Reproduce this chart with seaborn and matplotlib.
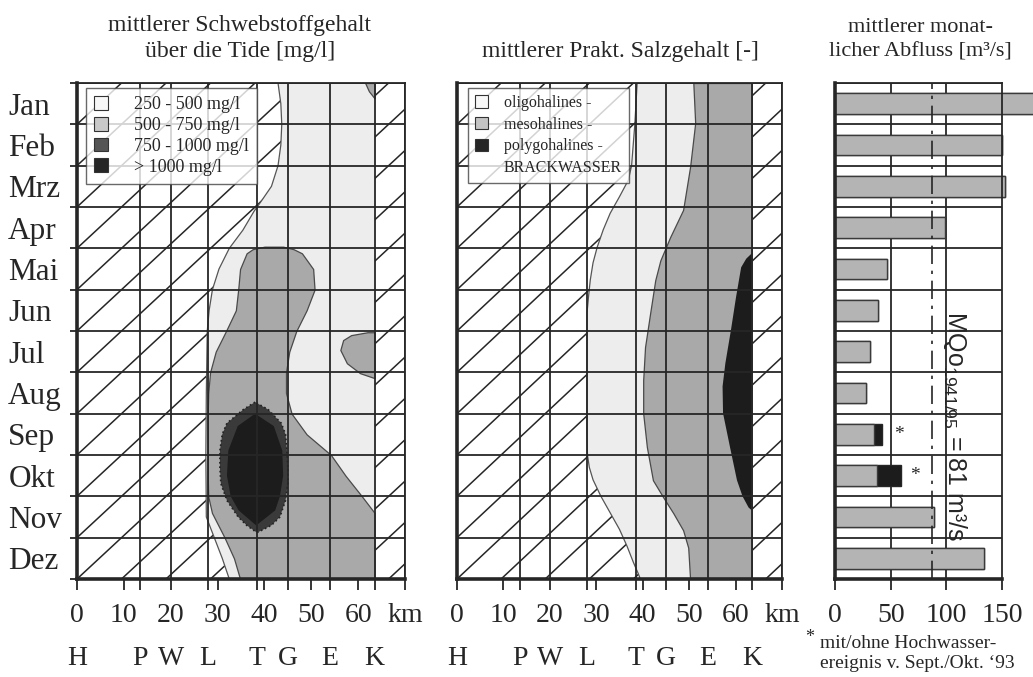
import numpy as np
import matplotlib
matplotlib.use("Agg")
import matplotlib.pyplot as plt
import seaborn as sns
from matplotlib.patches import Patch
from matplotlib.collections import LineCollection
from matplotlib.transforms import blended_transform_factory

# ---------------- data ----------------
months = ["Jan", "Feb", "Mrz", "Apr", "Mai", "Jun", "Jul", "Aug", "Sep", "Okt", "Nov", "Dez"]
station_letters = ["H", "P", "W", "L", "T", "G", "E", "K"]
station_km = [0, 13.5, 20, 28, 38.5, 45, 54, 63.5]
km_ticks = [0, 10, 20, 30, 40, 50, 60, 70]
km_tick_labels = ["0", "10", "20", "30", "40", "50", "60", "km"]

# Panel 1: suspended sediment (month position 1 = Jan centre)
ss_thin_m = [0.5, 1.0, 1.5, 2.0, 2.5, 3.0, 3.33, 3.6, 4.06, 4.5, 5.0, 5.5, 6.0, 6.5, 8.0, 9.5, 11.0, 11.5, 12.0, 12.5]
ss_thin_km = [42.9, 43.5, 43.7, 43.5, 42.9, 41.5, 39.5, 37.8, 35.4, 32.5, 30.3, 28.9, 28.2, 27.8, 27.6, 27.5, 27.6, 29.3, 31.0, 32.5]
ss_mid_m = [4.46, 4.52, 4.62, 5.0, 5.5, 6.0, 6.5, 7.0, 7.5, 8.0, 8.5, 9.0, 9.5, 10.0, 10.5, 10.9, 11.5, 12.0, 12.5]
ss_mid_left = [40.0, 37.5, 36.2, 34.8, 34.4, 33.9, 31.8, 29.6, 28.4, 28.0, 27.9, 27.9, 27.9, 27.9, 28.0, 28.8, 31.5, 33.5, 34.8]
ss_mid_right = [44.0, 46.2, 48.0, 50.4, 50.7, 49.0, 46.8, 45.3, 44.6, 44.6, 45.8, 49.0, 54.2, 57.3, 60.8, 63.5, 63.5, 63.5, 63.5]
ss_jan_m = [0.5, 0.7, 0.87]
ss_jan_left = [61.5, 62.3, 63.5]
ss_jul_m = [6.53, 6.6, 6.72, 6.96, 7.28, 7.52, 7.64]
ss_jul_left = [62.0, 58.5, 56.8, 56.2, 57.6, 60.4, 63.5]
ss_dark_m = [8.22, 8.4, 8.73, 9.0, 9.39, 9.8, 10.19, 10.6, 11.0, 11.2, 11.37]
ss_dark_left = [38.0, 35.5, 32.0, 31.0, 30.5, 30.5, 30.7, 32.0, 34.4, 36.2, 38.3]
ss_dark_right = [38.0, 40.8, 43.6, 44.5, 44.8, 45.0, 45.0, 44.5, 43.3, 41.5, 38.6]
ss_core_m = [8.5, 8.8, 9.39, 10.0, 10.5, 10.84, 11.2]
ss_core_left = [38.0, 34.3, 32.3, 32.0, 32.8, 34.5, 38.2]
ss_core_right = [38.0, 42.0, 43.8, 44.0, 43.3, 42.3, 38.3]
ss_labels = ["250 - 500 mg/l", "500 - 750 mg/l", "750 - 1000 mg/l", "> 1000 mg/l"]

# Panel 2: salinity
sal_oligo_m = [0.5, 1.5, 2.5, 2.85, 3.25, 3.65, 4.05, 4.47, 4.85, 5.27, 5.7, 6.07, 7.0, 8.0, 9.0, 9.5, 9.8, 10.1, 10.5, 10.9, 11.3, 11.7, 12.1, 12.36, 12.5]
sal_oligo_km = [38.8, 38.3, 37.6, 36.9, 35.0, 33.0, 31.5, 30.2, 29.3, 28.7, 28.3, 28.0, 28.0, 28.0, 28.0, 28.1, 28.5, 29.3, 31.0, 33.0, 35.0, 36.6, 38.0, 39.0, 39.5]
sal_meso_m = [0.5, 1.47, 2.53, 3.57, 4.23, 4.79, 5.27, 6.07, 6.89, 7.69, 8.49, 9.31, 10.11, 10.52, 10.91, 11.32, 11.74, 12.5]
sal_meso_km = [50.9, 51.3, 50.2, 48.7, 45.9, 43.8, 42.7, 41.6, 40.5, 40.1, 40.1, 40.9, 42.2, 44.4, 46.6, 48.7, 49.8, 50.2]
sal_poly_m = [4.62, 4.75, 4.96, 5.68, 6.48, 7.28, 7.84, 8.49, 9.31, 10.11, 10.5, 10.77, 10.84]
sal_poly_km = [63.5, 62.3, 61.2, 60.1, 59.0, 57.8, 57.2, 57.3, 58.8, 60.3, 61.5, 62.8, 63.5]
sal_labels = ["oligohalines -", "mesohalines -", "polygohalines -", "BRACKWASSER"]

# Panel 3: monthly discharge [m3/s]
flow_base = [190, 150, 153, 99, 47, 39, 31, 28, 35, 37.5, 89, 134]
flow_total = [190, 150, 153, 99, 47, 39, 31, 28, 42.5, 59, 89, 134]
flow_ticks = [0, 50, 100, 150]
mq_value = 81
mq_line_pos = 87

# ---------------- style ----------------
sns.set_theme(style="white")
plt.rcParams["font.family"] = ["Liberation Serif", "DejaVu Serif"]
plt.rcParams["mathtext.fontset"] = "custom"
plt.rcParams["mathtext.rm"] = "Liberation Sans"
plt.rcParams["mathtext.it"] = "Liberation Sans:italic"
plt.rcParams["mathtext.bf"] = "Liberation Sans:bold"

INK = "#262626"
LIGHT = "#ededed"
MID = "#a9a9a9"
DARK = "#3a3a3a"
BLACK = "#1c1c1c"

W, H = 1033, 677
fig = plt.figure(figsize=(W / 100, H / 100), dpi=100)
fig.patch.set_facecolor("white")


def px_axes(x0, x1, ytop, ybot):
    return [x0 / W, 1 - ybot / H, (x1 - x0) / W, (ybot - ytop) / H]


ax1 = fig.add_axes(px_axes(77, 405, 83, 579))
ax2 = fig.add_axes(px_axes(457, 782, 83, 579))
ax3 = fig.add_axes(px_axes(835, 1002, 83, 579))

row_edges = np.arange(0.5, 13.0, 1.0)


def hatch_region(ax, m, left, right):
    coll = ax.fill_betweenx(m, left, right, facecolor="white", edgecolor="none", zorder=1)
    path = coll.get_paths()[0]
    step = 9.5
    segs = [[(k * step, 12.5), (k * step + 12 * step, 0.5)] for k in range(-16, 10)]
    lc = LineCollection(segs, colors=INK, linewidths=1.1, zorder=1.5)
    ax.add_collection(lc, autolim=False)
    lc.set_clip_path(path, ax.transData)


def style_km_axis(ax):
    ax.set_xlim(0, 70)
    ax.set_ylim(12.5, 0.5)
    ax.hlines(row_edges, 0, 70, colors=INK, linewidth=1.3, zorder=5)
    ax.vlines(station_km[1:] + [70], 0.5, 12.5, colors=INK, linewidth=1.3, zorder=5)
    for s in ["left", "bottom"]:
        ax.spines[s].set_linewidth(2.6)
        ax.spines[s].set_color(INK)
    for s in ["top", "right"]:
        ax.spines[s].set_linewidth(1.3)
        ax.spines[s].set_color(INK)
    for sp in ax.spines.values():
        sp.set_zorder(6)
    ax.set_xticks(km_ticks)
    ax.set_xticklabels(km_tick_labels, fontsize=20)
    ax.set_xticks(station_km[1:], minor=True)
    ax.tick_params(axis="x", which="both", direction="out", length=8, width=1.3,
                   color=INK, pad=9, bottom=True)
    tr = blended_transform_factory(ax.transData, ax.transAxes)
    for letter, km in zip(station_letters, station_km):
        ax.text(km, -0.16, letter, transform=tr, ha="center", va="center",
                fontsize=20, color=INK)


# ---------------- panel 1 ----------------
ax1.fill_betweenx(ss_thin_m, ss_thin_km, 63.5, facecolor=LIGHT, edgecolor="none", zorder=1)
hatch_region(ax1, ss_thin_m, 0, ss_thin_km)
hatch_region(ax1, [0.5, 12.5], 63.5, 70)
ax1.plot(ss_thin_km, ss_thin_m, color="#555555", linewidth=0.9, zorder=2)
ax1.fill_betweenx(ss_mid_m, ss_mid_left, ss_mid_right, facecolor=MID, edgecolor="#4a4a4a", linewidth=0.9, zorder=2)
ax1.fill_betweenx(ss_jan_m, ss_jan_left, 63.5, facecolor=MID, edgecolor="#4a4a4a", linewidth=0.9, zorder=2)
ax1.fill_betweenx(ss_jul_m, ss_jul_left, 63.5, facecolor=MID, edgecolor="#4a4a4a", linewidth=0.9, zorder=2)
ax1.fill_betweenx(ss_dark_m, ss_dark_left, ss_dark_right, facecolor=DARK, edgecolor="#222222", linewidth=1.2, linestyle=":", zorder=3)
ax1.fill_betweenx(ss_core_m, ss_core_left, ss_core_right, facecolor=BLACK, edgecolor="none", zorder=3)
style_km_axis(ax1)
ax1.set_yticks(range(1, 13))
ax1.set_yticklabels(months, fontsize=22.5, ha="left", color=INK)
ax1.set_yticks(row_edges, minor=True)
ax1.tick_params(axis="y", which="major", length=0, pad=49.5)
ax1.tick_params(axis="y", which="minor", length=5, width=1.3, color=INK, left=True)

h1 = [Patch(facecolor="#f7f7f7", edgecolor="#333333", linewidth=0.8),
      Patch(facecolor="#c9c9c9", edgecolor="#333333", linewidth=0.8),
      Patch(facecolor="#555555", edgecolor="#333333", linewidth=0.8),
      Patch(facecolor="#262626", edgecolor="#333333", linewidth=0.8)]
leg1 = ax1.legend(h1, ss_labels, loc="upper left", bbox_to_anchor=(0.027, 0.99),
                  borderaxespad=0, frameon=True, fancybox=False, fontsize=13,
                  handlelength=0.8, handleheight=0.8, labelspacing=0.2,
                  handletextpad=1.4, borderpad=0.45)
leg1.get_frame().set_edgecolor("#444444")
leg1.get_frame().set_linewidth(1.0)
leg1.set_zorder(10)

# ---------------- panel 2 ----------------
ax2.fill_betweenx(sal_oligo_m, sal_oligo_km, 63.5, facecolor=LIGHT, edgecolor="none", zorder=1)
hatch_region(ax2, sal_oligo_m, 0, sal_oligo_km)
hatch_region(ax2, [0.5, 12.5], 63.5, 70)
ax2.plot(sal_oligo_km, sal_oligo_m, color="#555555", linewidth=0.9, zorder=2)
ax2.fill_betweenx(sal_meso_m, sal_meso_km, 63.5, facecolor=MID, edgecolor="#4a4a4a", linewidth=0.9, zorder=2)
ax2.fill_betweenx(sal_poly_m, sal_poly_km, 63.5, facecolor=BLACK, edgecolor="none", zorder=3)
style_km_axis(ax2)
ax2.set_yticks([])

h2 = [Patch(facecolor="#f7f7f7", edgecolor="#333333", linewidth=0.8),
      Patch(facecolor="#c4c4c4", edgecolor="#333333", linewidth=0.8),
      Patch(facecolor="#262626", edgecolor="#333333", linewidth=0.8),
      Patch(facecolor="none", edgecolor="none")]
leg2 = ax2.legend(h2, sal_labels, loc="upper left", bbox_to_anchor=(0.034, 0.99),
                  borderaxespad=0, frameon=True, fancybox=False, fontsize=11.5,
                  handlelength=0.8, handleheight=0.8, labelspacing=0.35,
                  handletextpad=1.0, borderpad=0.45)
leg2.get_frame().set_edgecolor("#444444")
leg2.get_frame().set_linewidth(1.0)
leg2.set_zorder(10)

# ---------------- panel 3 ----------------
sns.barplot(x=flow_total, y=months, orient="h", color=BLACK, saturation=1, width=0.5,
            edgecolor=INK, linewidth=1.0, ax=ax3, zorder=2)
sns.barplot(x=flow_base, y=months, orient="h", color="#b4b4b4", saturation=1, width=0.5,
            edgecolor="#3a3a3a", linewidth=1.0, ax=ax3, zorder=2.1)
for p in ax3.patches:
    p.set_clip_on(False)
ax3.set_xlim(0, 150)
ax3.set_ylim(11.5, -0.5)
ax3.hlines(np.arange(-0.5, 12.0, 1.0), 0, 150, colors=INK, linewidth=1.3, zorder=0.5)
ax3.vlines([50, 100], -0.5, 11.5, colors=INK, linewidth=1.3, zorder=0.5)
ax3.axvline(mq_line_pos, color=INK, linewidth=1.2, linestyle=(0, (11, 4, 2, 4)), zorder=3)
ax3.set_xlabel("")
ax3.set_ylabel("")
ax3.set_yticks([])
ax3.set_xticks(flow_ticks)
ax3.set_xticklabels([str(t) for t in flow_ticks], fontsize=20)
ax3.tick_params(axis="x", direction="out", length=8, width=1.3, color=INK, pad=9, bottom=True)
for s in ["left", "bottom"]:
    ax3.spines[s].set_linewidth(2.6)
    ax3.spines[s].set_color(INK)
for s in ["top", "right"]:
    ax3.spines[s].set_linewidth(1.3)
    ax3.spines[s].set_color(INK)
ax3.text(108, 7.8, r"MQo$_{\mathrm{1941/95}}$ = " + f"{mq_value}" + " m³/s", rotation=270,
         ha="center", va="center", fontsize=18, family="Liberation Sans", color=INK, zorder=4)
ax3.text(57, 8.0, "*", ha="center", va="center", fontsize=14, color=INK)
ax3.text(72, 9.0, "*", ha="center", va="center", fontsize=14, color=INK)

# ---------------- titles & notes ----------------
fig.text(240 / W, 1 - 25 / H, "mittlerer Schwebstoffgehalt", ha="center", va="center", fontsize=17, color=INK)
fig.text(240 / W, 1 - 52 / H, "über die Tide [mg/l]", ha="center", va="center", fontsize=17, color=INK)
fig.text(620 / W, 1 - 52 / H, "mittlerer Prakt. Salzgehalt [-]", ha="center", va="center", fontsize=17, color=INK)
fig.text(920 / W, 1 - 27 / H, "mittlerer monat-", ha="center", va="center", fontsize=16, color=INK)
fig.text(920 / W, 1 - 52 / H, "licher Abfluss [m³/s]", ha="center", va="center", fontsize=16, color=INK)
fig.text(810 / W, 1 - 638 / H, "*", ha="center", va="center", fontsize=13, color=INK)
fig.text(820 / W, 1 - 643 / H, "mit/ohne Hochwasser-", ha="left", va="center", fontsize=14, color=INK)
fig.text(820 / W, 1 - 663 / H, "ereignis v. Sept./Okt. ‘93", ha="left", va="center", fontsize=14, color=INK)

fig.savefig("out.png", dpi=100, facecolor="white")
